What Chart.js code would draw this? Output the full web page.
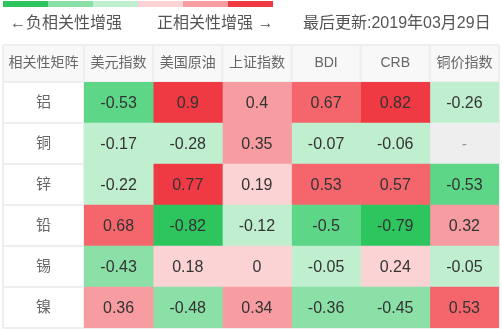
<!DOCTYPE html>
<html>
<head>
<meta charset="utf-8">
<script src="https://cdn.jsdelivr.net/npm/chart.js@4/dist/chart.umd.min.js"></script>
<style>
html,body{margin:0;padding:0;background:#fff;}
</style>
</head>
<body>
<canvas id="c" width="502" height="332"></canvas>
<script>
// ---- data ----
const rowLabels = ['铝', '铜', '锌', '铅', '锡', '镍'];
const colLabels = ['美元指数', '美国原油', '上证指数', 'BDI', 'CRB', '铜价指数'];
const cornerLabel = '相关性矩阵';
const legendLeftText = '←负相关性增强';
const legendRightText = '正相关性增强 →';
const updateText = '最后更新:2019年03月29日';
const valAl = [-0.53, 0.9, 0.4, 0.67, 0.82, -0.26];
const valTong = [-0.17, -0.28, 0.35, -0.07, -0.06, null];
const valXin = [-0.22, 0.77, 0.19, 0.53, 0.57, -0.53];
const valQian = [0.68, -0.82, -0.12, -0.5, -0.79, 0.32];
const valXi = [-0.43, 0.18, 0, -0.05, 0.24, -0.05];
const valNie = [0.36, -0.48, 0.34, -0.36, -0.45, 0.53];
const matrix = [valAl, valTong, valXin, valQian, valXi, valNie];
const legendColors = ['#2dc55e', '#8ae0a6', '#c0efd0', '#fcd3d5', '#f79ca0', '#f03a43'];

// ---- styles ----
const FONT = '"Liberation Sans", "Noto Sans CJK SC", sans-serif';
function cellColor(v) {
  if (v === null || v === undefined) return '#eeeeee';
  if (v >= 0.7) return '#f03a43';
  if (v >= 0.5) return '#f4666c';
  if (v >= 0.3) return '#f79ca0';
  if (v >= 0) return '#fcd3d5';
  if (v > -0.3) return '#c0efd0';
  if (v > -0.5) return '#8ae0a6';
  if (v > -0.7) return '#5ed688';
  return '#2dc55e';
}

const datasets = colLabels.map((name, ci) => ({
  label: name,
  data: matrix.map(row => 1),
  backgroundColor: matrix.map(row => cellColor(row[ci])),
  borderWidth: 0,
  barPercentage: 1,
  categoryPercentage: 1
}));

const chromePlugin = {
  id: 'chrome',
  beforeDraw(chart) {
    const ctx = chart.ctx;
    const ca = chart.chartArea;
    const yS = chart.scales.y;
    const xS = chart.scales.xh;
    ctx.save();
    ctx.fillStyle = '#fff';
    ctx.fillRect(0, 0, chart.width, chart.height);
    // legend strip
    const segW = 45, segX = 3;
    legendColors.forEach((c, i) => {
      ctx.fillStyle = c;
      ctx.fillRect(segX + i * segW, 1, segW, 6);
    });
    // top texts
    ctx.fillStyle = '#555';
    ctx.font = '16px ' + FONT;
    ctx.textBaseline = 'middle';
    ctx.textAlign = 'left';
    ctx.fillText(legendLeftText, 10, 24);
    ctx.fillText(legendRightText, 157, 24);
    ctx.fillText(updateText, 303, 24);
    // header background
    const left = yS.left, right = ca.right, top = xS.top, hb = xS.bottom;
    ctx.fillStyle = '#f8f8f8';
    ctx.fillRect(left, top, right - left, hb - top);
    // grid lines
    ctx.strokeStyle = '#eeeeee';
    ctx.lineWidth = 2;
    ctx.beginPath();
    ctx.moveTo(left, top); ctx.lineTo(right, top);
    ctx.moveTo(left, hb); ctx.lineTo(right, hb);
    ctx.moveTo(left, ca.bottom); ctx.lineTo(right, ca.bottom);
    ctx.moveTo(left, top); ctx.lineTo(left, ca.bottom);
    ctx.moveTo(right, top); ctx.lineTo(right, ca.bottom);
    const n = colLabels.length;
    for (let i = 0; i <= n; i++) {
      const x = ca.left + (ca.right - ca.left) * i / n;
      ctx.moveTo(x, top); ctx.lineTo(x, ca.bottom);
    }
    const m = rowLabels.length;
    for (let j = 1; j < m; j++) {
      const y = ca.top + (ca.bottom - ca.top) * j / m;
      ctx.moveTo(left, y); ctx.lineTo(right, y);
    }
    ctx.stroke();
    // corner text
    ctx.fillStyle = '#666';
    ctx.font = '14px ' + FONT;
    ctx.textAlign = 'center';
    ctx.fillText(cornerLabel, (left + ca.left) / 2, (top + hb) / 2);
    ctx.restore();
  },
  afterDatasetsDraw(chart) {
    const ctx = chart.ctx;
    ctx.save();
    ctx.font = '16px ' + FONT;
    ctx.textAlign = 'center';
    ctx.textBaseline = 'middle';
    chart.data.datasets.forEach((ds, ci) => {
      const meta = chart.getDatasetMeta(ci);
      meta.data.forEach((el, ri) => {
        const v = matrix[ri][ci];
        const cx = (el.x + el.base) / 2;
        ctx.fillStyle = (v === null) ? '#999' : '#333';
        ctx.fillText(v === null ? '-' : String(v), cx, el.y + 1);
      });
    });
    ctx.restore();
  }
};

new Chart(document.getElementById('c'), {
  type: 'bar',
  data: { labels: rowLabels, datasets },
  options: {
    indexAxis: 'y',
    responsive: false,
    animation: false,
    devicePixelRatio: 1,
    layout: { padding: { top: 45, left: 3, right: 3, bottom: 4 } },
    plugins: { legend: { display: false }, tooltip: { enabled: false } },
    scales: {
      x: { type: 'linear', stacked: true, min: 0, max: colLabels.length, display: false },
      xh: {
        type: 'category', labels: colLabels, position: 'top', offset: true,
        grid: { display: false, drawTicks: false }, border: { display: false },
        ticks: { color: '#666', font: { size: 14, family: FONT }, padding: 10, maxRotation: 0, autoSkip: false },
        afterFit(s) { s.height = 37; s.paddingLeft = 0; s.paddingRight = 0; }
      },
      y: {
        type: 'category', stacked: true, offset: true,
        grid: { display: false, drawTicks: false }, border: { display: false },
        ticks: { color: '#666', font: { size: 15, family: FONT }, crossAlign: 'center', padding: 33 },
        afterFit(s) { s.width = 81; s.paddingTop = 0; s.paddingBottom = 0; }
      }
    }
  },
  plugins: [chromePlugin]
});
</script>
</body>
</html>
